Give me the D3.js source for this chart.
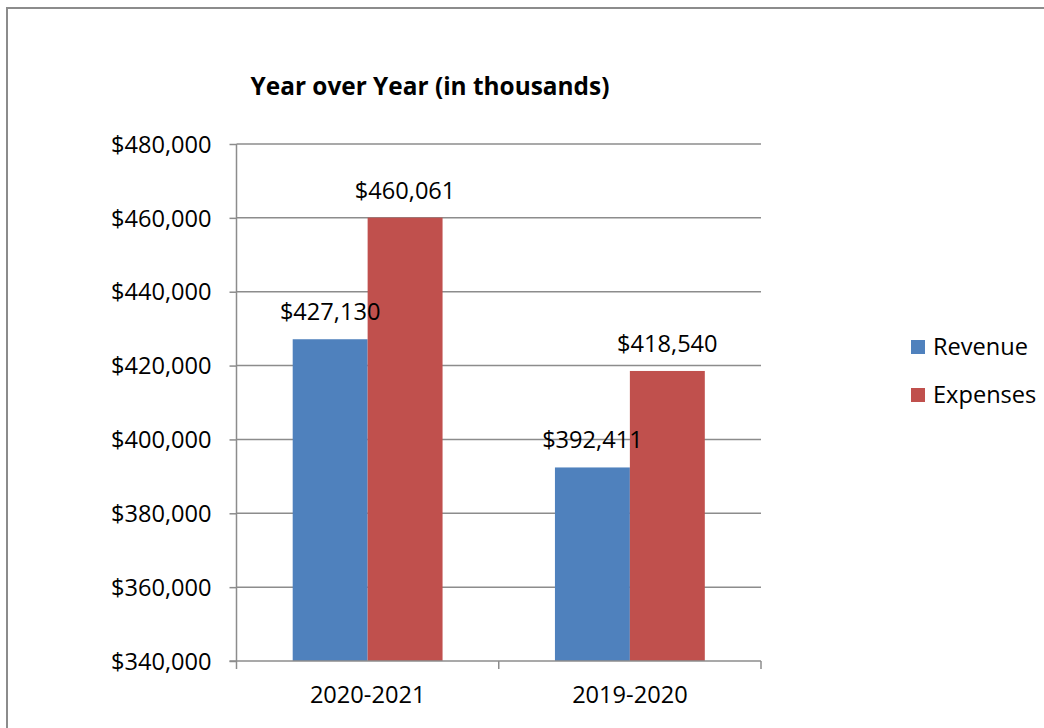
<!DOCTYPE html>
<html>
<head>
<meta charset="utf-8">
<script src="https://cdn.jsdelivr.net/npm/d3@7"></script>
<style>
  html, body { margin: 0; padding: 0; background: #fff; }
  svg { display: block; }
  text { font-family: "Open Sans", "Liberation Sans", sans-serif; fill: #000; }
</style>
</head>
<body>
<svg id="chart" width="1044" height="728"></svg>
<script>
const categories = ["2020-2021", "2019-2020"];
const seriesNames = ["Revenue", "Expenses"];
const revenue = [427130, 392411];
const expenses = [460061, 418540];
const tickValues = [340000, 360000, 380000, 400000, 420000, 440000, 460000, 480000];
const titleText = "Year over Year (in thousands)";

const colors = { Revenue: "#4F81BD", Expenses: "#C0504D" };
const seriesValues = { Revenue: revenue, Expenses: expenses };
const fmt = v => "$" + d3.format(",")(v);
const fs = "23.6px";

const svg = d3.select("#chart");

// outer frame
svg.append("rect")
  .attr("x", 7).attr("y", 8)
  .attr("width", 1100).attr("height", 800)
  .attr("fill", "none").attr("stroke", "#8c8c8c").attr("stroke-width", 2);

const plot = { left: 236.5, right: 761, top: 144, bottom: 661 };

const y = d3.scaleLinear().domain([340000, 480000]).range([plot.bottom, plot.top]);
const x0 = d3.scaleBand().domain(categories).range([plot.left, plot.right]).padding(0);
const x1 = d3.scaleBand().domain(seriesNames).range([0, x0.bandwidth()]).paddingInner(0).paddingOuter(0.75);

// gridlines
svg.append("g").selectAll("line").data(tickValues.filter(v => v !== 340000)).join("line")
  .attr("x1", plot.left).attr("x2", plot.right)
  .attr("y1", d => y(d)).attr("y2", d => y(d))
  .attr("stroke", "#8c8c8c").attr("stroke-width", 1.5);

// bars
const rows = categories.map((c, i) => ({ cat: c, vals: seriesNames.map(s => ({ s, v: seriesValues[s][i] })) }));
const groups = svg.append("g").selectAll("g").data(rows).join("g")
  .attr("transform", d => `translate(${x0(d.cat)},0)`);
groups.selectAll("rect").data(d => d.vals).join("rect")
  .attr("x", d => x1(d.s)).attr("width", x1.bandwidth())
  .attr("y", d => y(d.v)).attr("height", d => y(340000) - y(d.v))
  .attr("fill", d => colors[d.s]);
groups.selectAll("text").data(d => d.vals).join("text")
  .attr("x", d => x1(d.s) + x1.bandwidth() / 2)
  .attr("y", d => y(d.v) - 19)
  .attr("text-anchor", "middle")
  .style("font-size", fs)
  .text(d => fmt(d.v));

// y axis
const yAxis = d3.axisLeft(y).tickValues(tickValues).tickFormat(fmt).tickSize(7).tickPadding(18);
const gy = svg.append("g").attr("transform", `translate(${plot.left},0)`).call(yAxis);
gy.select(".domain").attr("stroke", "#8c8c8c").attr("stroke-width", 1.5).attr("d", `M0,${plot.top}V${plot.bottom}`);
gy.selectAll(".tick line").attr("stroke", "#8c8c8c").attr("stroke-width", 1.5);
gy.selectAll(".tick text").style("font-size", fs).attr("font-family", null).attr("dy", "0.35em");

// x axis
const xAxis = d3.axisBottom(x0).tickSize(0).tickPadding(0);
const gx = svg.append("g").attr("transform", `translate(0,${plot.bottom})`).call(xAxis);
gx.select(".domain").attr("stroke", "#8c8c8c").attr("stroke-width", 1.5).attr("d", `M${plot.left - 7},0H${plot.right}`);
gx.selectAll(".tick text").style("font-size", fs).attr("font-family", null).attr("y", 42).attr("dy", 0);
// category boundary tick marks
const bounds = [plot.left, ...categories.map(c => x0(c) + x0.bandwidth())];
gx.selectAll(".bound").data(bounds).join("line").attr("class", "bound")
  .attr("x1", d => d).attr("x2", d => d).attr("y1", 0).attr("y2", 8)
  .attr("stroke", "#8c8c8c").attr("stroke-width", 1.5);

// title
svg.append("text").attr("x", 430).attr("y", 95).attr("text-anchor", "middle")
  .style("font-size", "24.4px").style("font-weight", "bold").text(titleText);

// legend
const lg = svg.append("g").selectAll("g").data(seriesNames).join("g")
  .attr("transform", (d, i) => `translate(911,${340 + i * 48})`);
lg.append("rect").attr("width", 14).attr("height", 14).attr("fill", d => colors[d]);
lg.append("text").attr("x", 22).attr("y", 15).style("font-size", fs).text(d => d);
</script>
</body>
</html>
